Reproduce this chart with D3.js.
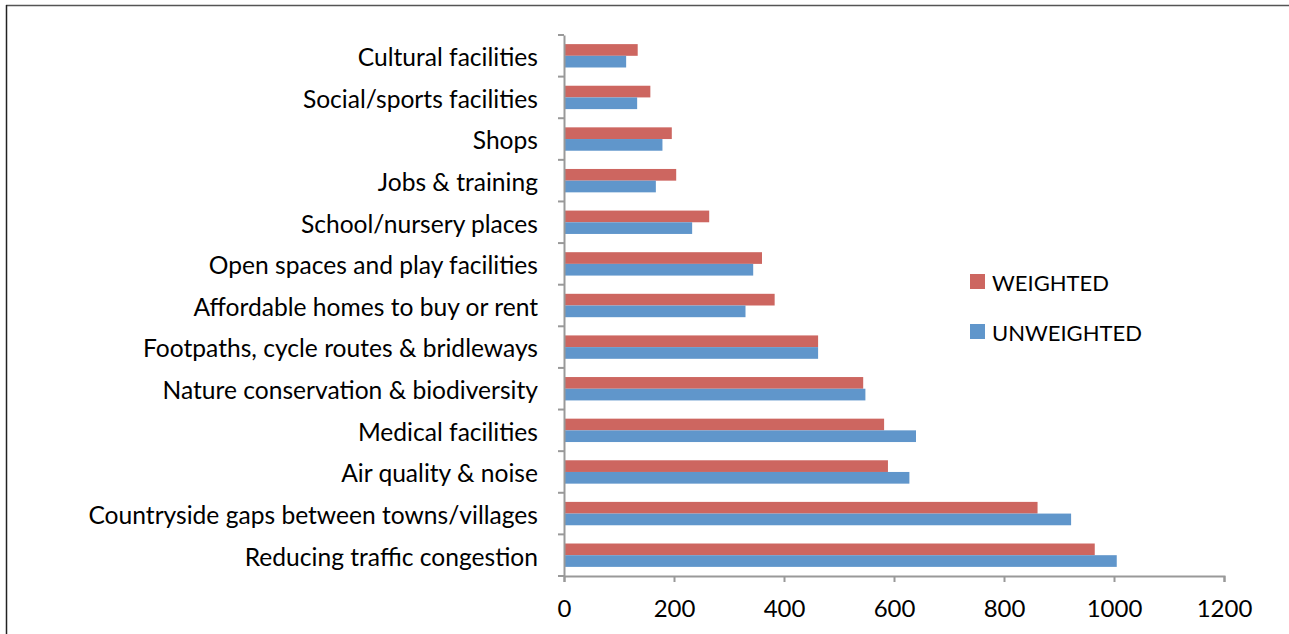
<script src="https://d3js.org/d3.v7.min.js"></script>
<style>
  body { margin: 0; background: #fff; }
  text { font-family: Lato, "Open Sans", sans-serif; fill: #000; }
</style>
<body>
<svg width="1289" height="634"></svg>
<script>
    // categories top -> bottom, as in the picture
    const categories = [
        'Cultural facilities',
        'Social/sports facilities',
        'Shops',
        'Jobs & training',
        'School/nursery places',
        'Open spaces and play facilities',
        'Affordable homes to buy or rent',
        'Footpaths, cycle routes & bridleways',
        'Nature conservation & biodiversity',
        'Medical facilities',
        'Air quality & noise',
        'Countryside gaps between towns/villages',
        'Reducing traffic congestion'
    ]
    const weighted   = [134, 157, 196, 204, 264, 360, 383, 462, 544, 582, 589, 861, 965]
    const unweighted = [113, 133, 179, 167, 233, 344, 330, 462, 548, 640, 628, 922, 1005]
    const seriesNames = ['WEIGHTED', 'UNWEIGHTED']
    const seriesColors = ['#cd6660', '#6096cb']
    const xTicks = [0, 200, 400, 600, 800, 1000, 1200]

    const svg = d3.select('svg')

    // outer frame (top + left edges visible)
    svg.append('line').attr('x1', 6).attr('x2', 1289).attr('y1', 5.5).attr('y2', 5.5)
        .attr('stroke', '#555').attr('stroke-width', 1.5)
    svg.append('line').attr('x1', 6.5).attr('x2', 6.5).attr('y1', 5).attr('y2', 634)
        .attr('stroke', '#222').attr('stroke-width', 1.5)

    const plotLeft = 564, plotRight = 1224, plotTop = 35, plotBottom = 576

    const x = d3.scaleLinear().domain([0, 1200]).range([plotLeft, plotRight])
    const y = d3.scaleBand().domain(categories).range([plotTop, plotBottom])
    const inner = d3.scaleBand().domain(seriesNames).range([0, y.bandwidth()]).paddingOuter(0.78)

    const rows = categories.map((c, i) => ({cat: c, vals: [weighted[i], unweighted[i]]}))

    const g = svg.append('g')
    g.selectAll('g.row')
        .data(rows)
        .join('g')
        .attr('class', 'row')
        .attr('transform', d => `translate(0,${y(d.cat)})`)
        .selectAll('rect')
        .data(d => d.vals.map((v, k) => ({v, k})))
        .join('rect')
        .attr('x', x(0))
        .attr('y', d => inner(seriesNames[d.k]))
        .attr('width', d => x(d.v) - x(0))
        .attr('height', inner.bandwidth())
        .attr('fill', d => seriesColors[d.k])

    // x axis
    const xAxis = svg.append('g')
        .attr('transform', `translate(0,${plotBottom})`)
        .call(d3.axisBottom(x).tickValues(xTicks).tickSize(6).tickPadding(18).tickFormat(d3.format('d')))
    xAxis.select('.domain').attr('stroke', '#999').attr('stroke-width', 2)
    xAxis.selectAll('.tick line').attr('stroke', '#999').attr('stroke-width', 2)
    xAxis.selectAll('.tick text').attr('font-size', 24).attr('fill', '#000')
        .style('font-family', 'Lato, sans-serif')

    // y axis
    const yAxis = svg.append('g')
        .attr('transform', `translate(${plotLeft},0)`)
        .call(d3.axisLeft(y).tickSize(0).tickPadding(26))
    yAxis.select('.domain').attr('stroke', '#999').attr('stroke-width', 2)
    yAxis.selectAll('.tick text').attr('font-size', 24.6).attr('fill', '#000')
        .attr('dy', '0.42em')
        .style('font-family', 'Lato, sans-serif')

    // y tick marks at the band edges
    const edges = categories.map(c => y(c)).concat([plotBottom])
    svg.append('g').selectAll('line')
        .data(edges)
        .join('line')
        .attr('x1', plotLeft - 6).attr('x2', plotLeft)
        .attr('y1', d => d).attr('y2', d => d)
        .attr('stroke', '#999').attr('stroke-width', 2)

    // legend
    const legend = svg.append('g')
    seriesNames.forEach((name, i) => {
        const ly = 274 + i * 50
        legend.append('rect').attr('x', 970).attr('y', ly).attr('width', 15).attr('height', 15)
            .attr('fill', seriesColors[i])
        legend.append('text').attr('x', 992).attr('y', ly + 9).attr('dy', '0.38em')
            .attr('font-size', 22).text(name)
    })
</script>
</body>
